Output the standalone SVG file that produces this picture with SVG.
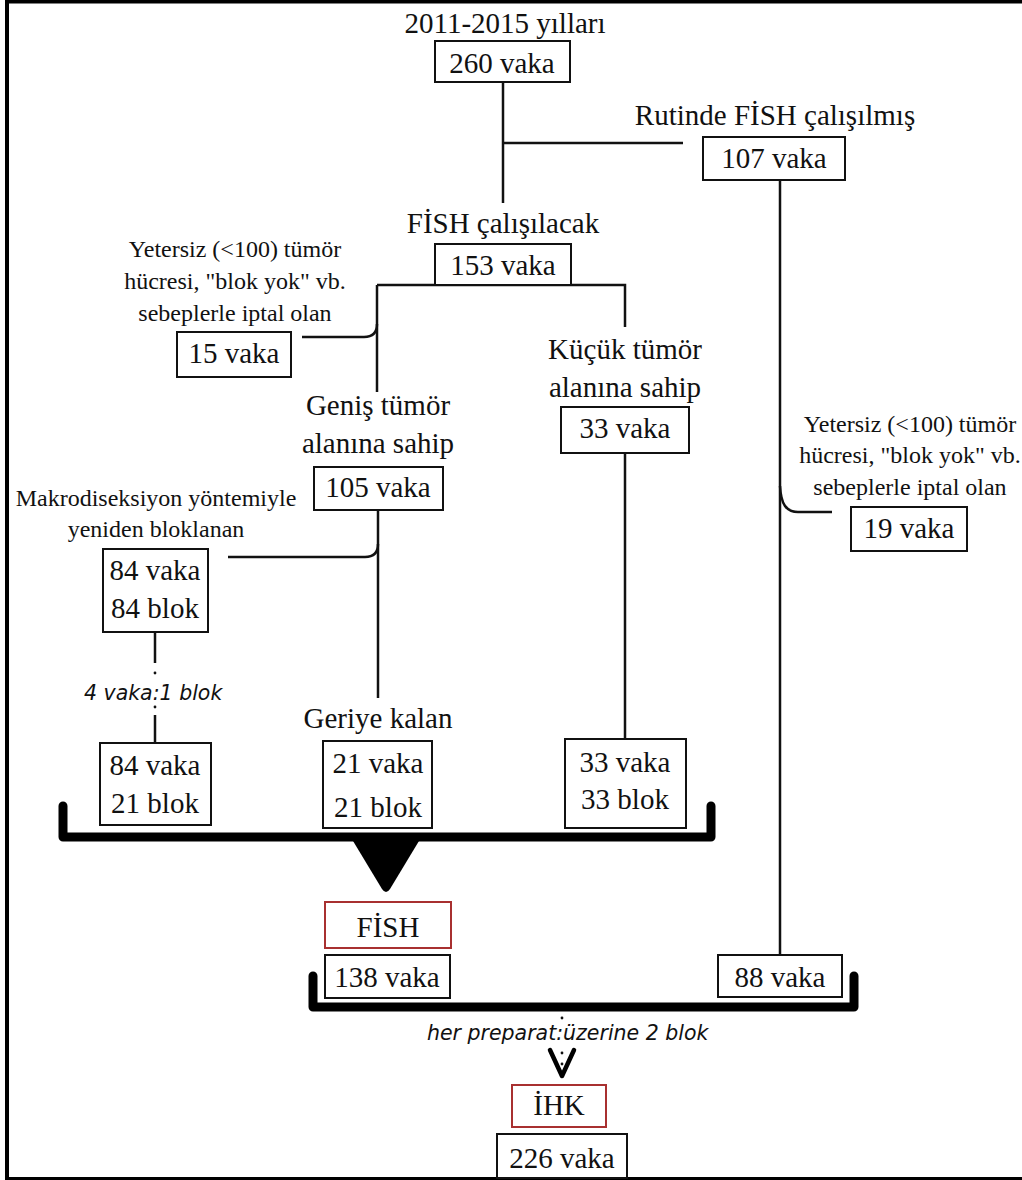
<svg xmlns="http://www.w3.org/2000/svg" width="1022" height="1180" viewBox="0 0 1022 1180">
<style>
text{font-family:"Liberation Serif","Times New Roman",serif;fill:#111;text-anchor:middle}
.l{font-size:29px}
.s{font-size:24px}
.i{font-family:"DejaVu Sans",Verdana,sans-serif;font-style:italic;font-size:20.5px;text-anchor:start}
.b{fill:#fff;stroke:#111;stroke-width:2}
.r{fill:#fff;stroke:#a83030;stroke-width:2}
.c{fill:none;stroke:#111;stroke-width:2.5}
.t{fill:none;stroke:#000;stroke-width:9;stroke-linecap:round;stroke-linejoin:round}
</style>
<rect width="1022" height="1180" fill="#fff"/>
<g id="frame"><path d="M7,1180 V1.5 H1022" fill="none" stroke="#000" stroke-width="4"/><path d="M7,1178.5 H1022" stroke="#000" stroke-width="3"/></g>
<g id="connectors">
<path class="c" d="M503,82 V203"/>
<path class="c" d="M503,143 H683"/>
<path class="c" d="M780,180 V955"/>
<path class="c" d="M377,285 H625 V327"/>
<path class="c" d="M377,285 V392"/>
<path class="c" d="M302,337 H364 Q377,337 377,324"/>
<path class="c" d="M378,510 V698"/>
<path class="c" d="M228,557 H365 Q378,557 378,544"/>
<path class="c" d="M625,453 V739"/>
<path class="c" d="M780,486 C781,504 786,512 798,512 H832"/>
<path class="c" d="M155,632 V663 M155,715 V743"/>
<circle cx="155" cy="673" r="1.4" fill="#111"/><circle cx="155" cy="707" r="1.4" fill="#111"/>
<path class="t" d="M63,806 V837 H711 V806"/>
<path d="M350,836 L422,836 L390,889 Q386,895 382,889 Z" fill="#000"/>
<path class="t" d="M313,976 V1007 H854 V976"/>
<circle cx="562" cy="1018" r="1.4" fill="#111"/><circle cx="562" cy="1053" r="1.4" fill="#111"/><circle cx="562" cy="1064" r="1.4" fill="#111"/>
<path d="M550,1050 L562,1076 L574,1050" fill="none" stroke="#000" stroke-width="4.5" stroke-linecap="round" stroke-linejoin="round"/>
</g>
<g id="n2011"><text class="l" x="505" y="33">2011-2015 yılları</text><rect class="b" x="435" y="41" width="135" height="41"/><text class="l" x="502" y="73">260 vaka</text></g>
<g id="nRutin"><text class="l" x="775" y="125">Rutinde FİSH çalışılmış</text><rect class="b" x="703" y="137" width="142" height="43"/><text class="l" x="774" y="168">107 vaka</text></g>
<g id="nFish153"><text class="l" x="503" y="233">FİSH çalışılacak</text><rect class="b" x="435" y="244" width="136" height="41"/><text class="l" x="503" y="275">153 vaka</text></g>
<g id="nIptal15"><text class="s" x="235" y="257">Yetersiz (&lt;100) tümör</text><text class="s" x="235" y="289">hücresi, "blok yok" vb.</text><text class="s" x="235" y="321">sebeplerle iptal olan</text><rect class="b" x="177" y="332" width="114" height="45"/><text class="l" x="234" y="363">15 vaka</text></g>
<g id="nGenis"><text class="l" x="378" y="415">Geniş tümör</text><text class="l" x="378" y="453">alanına sahip</text><rect class="b" x="314" y="467" width="129" height="43"/><text class="l" x="378" y="497">105 vaka</text></g>
<g id="nKucuk"><text class="l" x="625" y="359">Küçük tümör</text><text class="l" x="625" y="397">alanına sahip</text><rect class="b" x="561" y="407" width="128" height="46"/><text class="l" x="625" y="438">33 vaka</text></g>
<g id="nIptal19"><text class="s" x="910" y="432">Yetersiz (&lt;100) tümör</text><text class="s" x="910" y="463">hücresi, "blok yok" vb.</text><text class="s" x="910" y="495">sebeplerle iptal olan</text><rect class="b" x="851" y="507" width="116" height="44"/><text class="l" x="909" y="538">19 vaka</text></g>
<g id="nMakro"><text class="s" x="156" y="506">Makrodiseksiyon yöntemiyle</text><text class="s" x="156" y="537">yeniden bloklanan</text><rect class="b" x="103" y="549" width="105" height="83"/><text class="l" x="155" y="580">84 vaka</text><text class="l" x="155" y="618">84 blok</text></g>
<g id="lblRatio"><text class="i" x="84" y="700">4 vaka:1 blok</text></g>
<g id="n8421"><rect class="b" x="100" y="743" width="111" height="82"/><text class="l" x="155" y="775">84 vaka</text><text class="l" x="155" y="813">21 blok</text></g>
<g id="nGeriye"><text class="l" x="378" y="728">Geriye kalan</text><rect class="b" x="323" y="741" width="109" height="87"/><text class="l" x="378" y="773">21 vaka</text><text class="l" x="378" y="817">21 blok</text></g>
<g id="n3333"><rect class="b" x="565" y="739" width="121" height="89"/><text class="l" x="625" y="772">33 vaka</text><text class="l" x="625" y="809">33 blok</text></g>
<g id="nFISH"><rect class="r" x="325" y="902" width="126" height="46"/><text class="l" x="388" y="937">FİSH</text><rect class="b" x="325" y="955" width="125" height="43"/><text class="l" x="387" y="987">138 vaka</text></g>
<g id="n88"><rect class="b" x="718" y="955" width="124" height="42"/><text class="l" x="780" y="987">88 vaka</text></g>
<g id="lblPrep"><text class="i" x="427" y="1040">her preparat:üzerine 2 blok</text></g>
<g id="nIHK"><rect class="r" x="512" y="1085" width="94" height="42"/><text class="l" x="559" y="1115">İHK</text><rect class="b" x="497" y="1134" width="130" height="44"/><text class="l" x="562" y="1168">226 vaka</text></g>
</svg>
